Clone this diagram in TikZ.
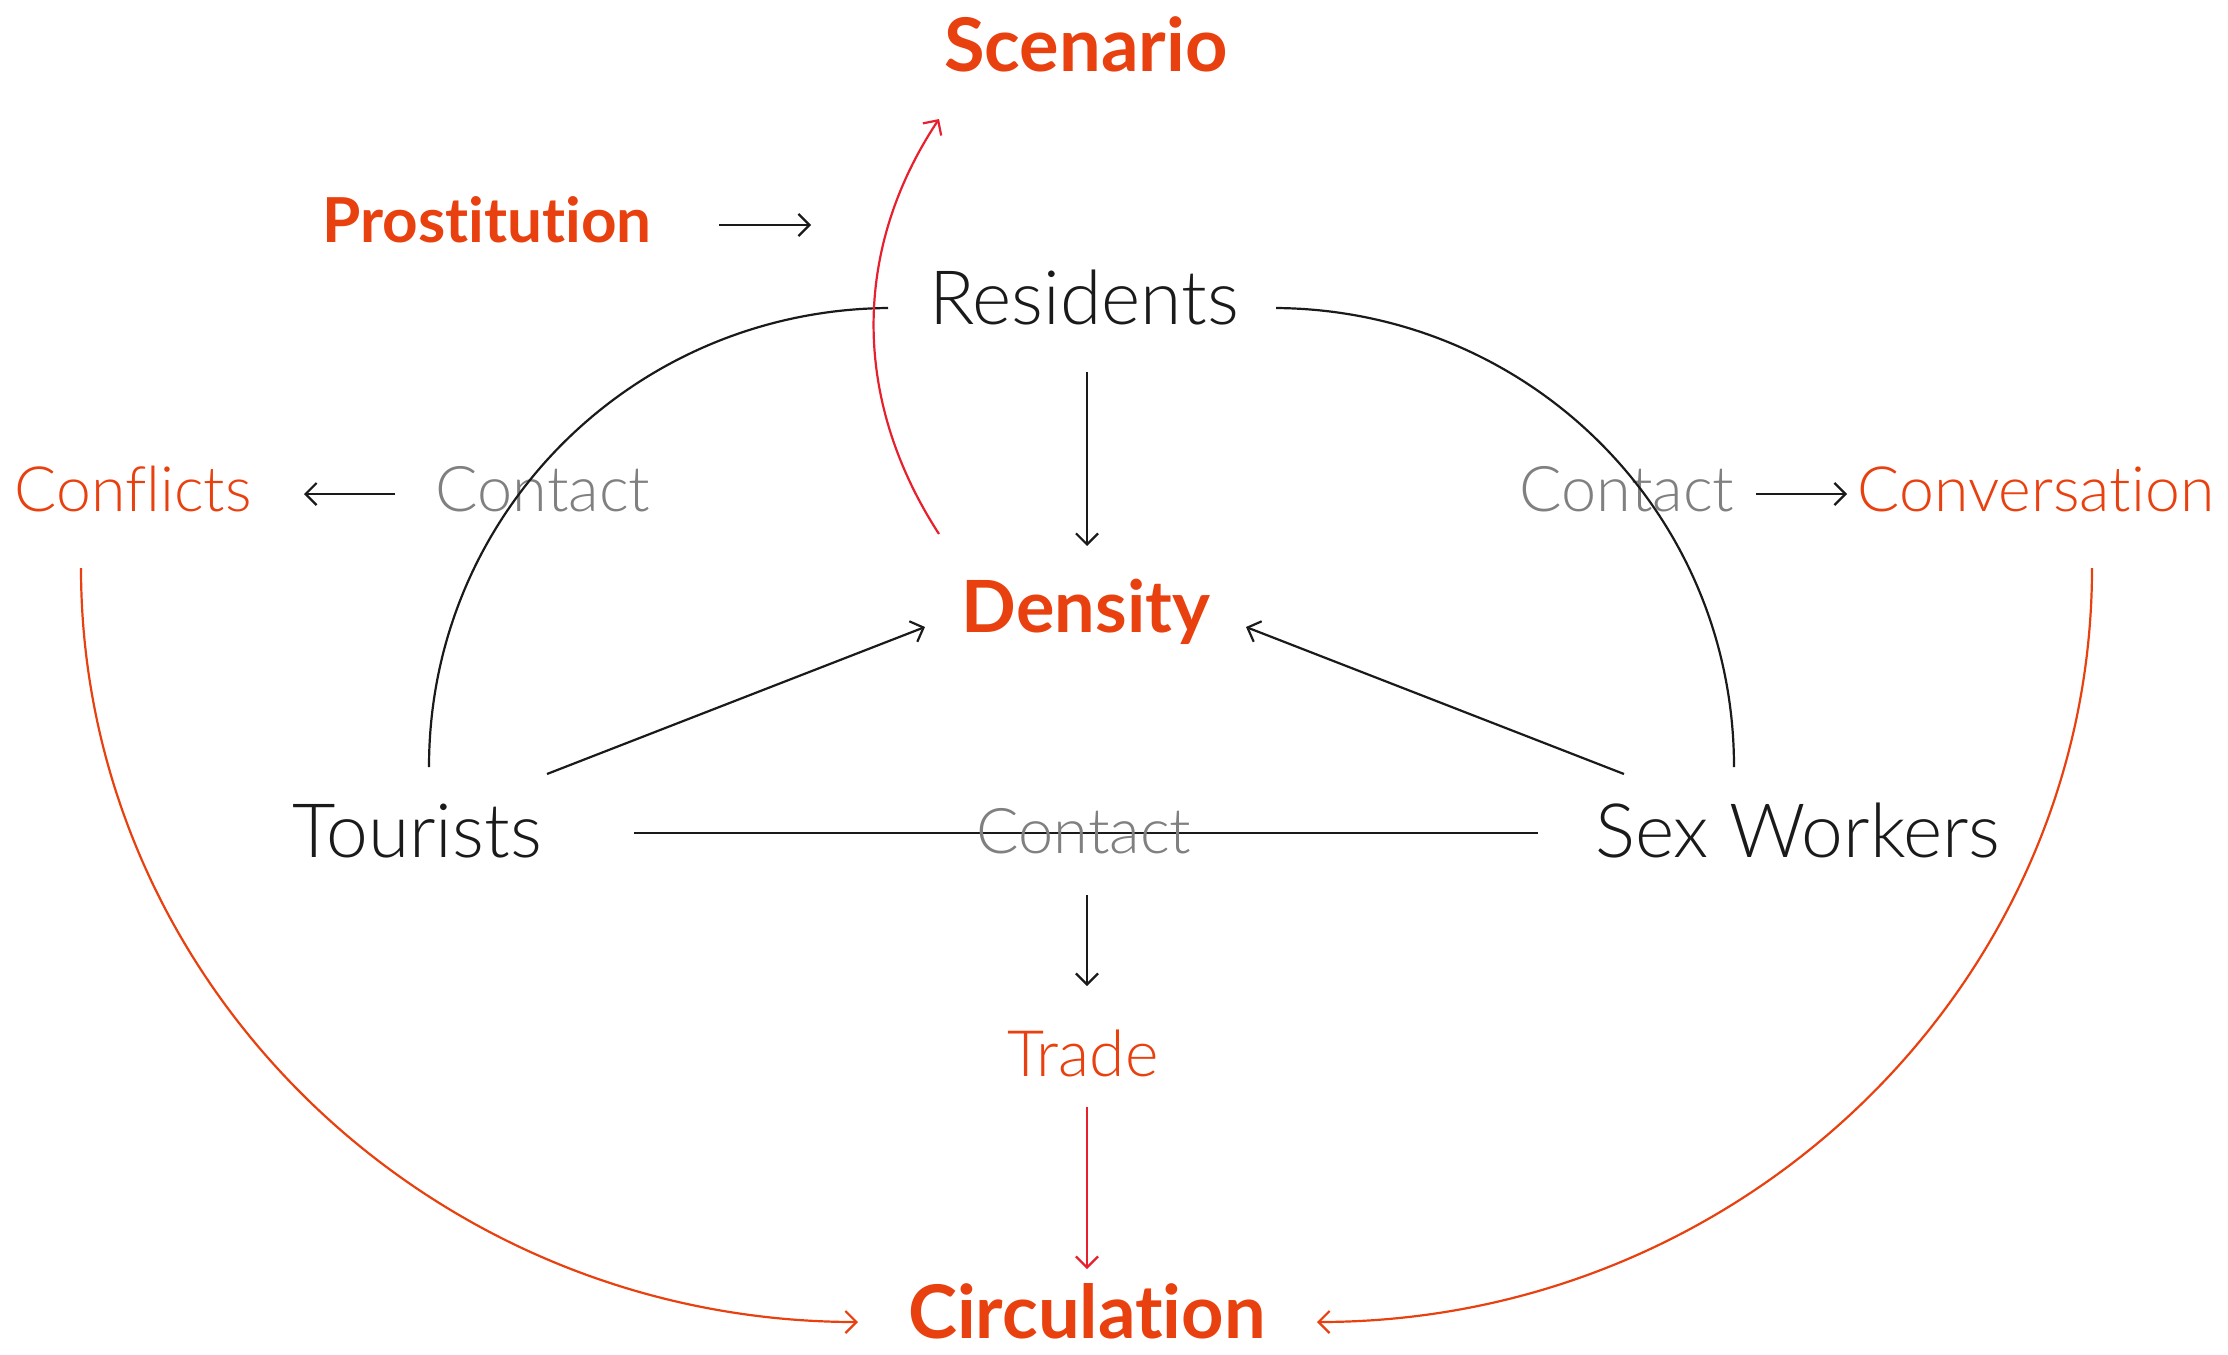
\documentclass[tikz,border=0pt]{standalone}
\usepackage{fontspec}
\setmainfont{Lato}[Ligatures=NoCommon]
\newfontfamily\lightf{Lato}[UprightFont={* Light},BoldFont={* Bold},Ligatures=NoCommon]
\usetikzlibrary{arrows.meta,calc}
\definecolor{accent}{RGB}{232,64,14}
\definecolor{redline}{RGB}{232,32,45}
\definecolor{ink}{RGB}{26,26,26}
\definecolor{greytext}{RGB}{128,128,128}
\tikzset{
  lbl/.style={anchor=base,inner sep=0pt},
  boldlbl/.style={lbl,text=accent,font=\fontsize{74}{80}\selectfont\bfseries},
  actor/.style={lbl,text=ink,font=\lightf\fontsize{75}{80}\selectfont},
  effect/.style={lbl,text=accent,font=\lightf\fontsize{62.5}{70}\selectfont},
  contact/.style={lbl,text=greytext,font=\lightf\fontsize{63}{70}\selectfont},
  arr/.style={draw=ink,line width=2.2pt,-{Straight Barb[length=11pt,width=22pt]}},
  link/.style={draw=ink,line width=2.2pt},
  redarr/.style={draw=redline,line width=2.2pt,-{Straight Barb[length=11pt,width=22pt]}},
  orarr/.style={draw=accent,line width=2.2pt,-{Straight Barb[length=11pt,width=22pt]}},
}
\begin{document}
\begin{tikzpicture}[x=1pt,y=-1pt]
\useasboundingbox (0,0) rectangle (2228,1355);
% nodes
\node[boldlbl] (scenario) at (1086,71) {Scenario};
\node[boldlbl,font=\fontsize{62}{70}\selectfont\bfseries] (prost) at (487,242) {Prostitution};
\node[actor] (residents) at (1084,324) {Residents};
\node[effect] (conflicts) at (133,511) {Conflicts};
\node[contact] (contactL) at (543,511) {Contact};
\node[contact] (contactR) at (1627,511) {Contact};
\node[effect] (conversation) at (2036,511) {Conversation};
\node[boldlbl,font=\fontsize{72}{78}\selectfont\bfseries] (density) at (1086,632) {Density};
\node[actor] (tourists) at (417,857) {Tourists};
\node[actor] (sexw) at (1798,857) {Sex Workers};
\node[effect,font=\lightf\fontsize{64}{70}\selectfont] (trade) at (1083,1076) {Trade};
\node[boldlbl] (circulation) at (1087,1338) {Circulation};
\coordinate (prostend) at ($(prost.base)+(324,-17)$);
% contact line (behind text)
\draw[link] ($(tourists.base)+(217,-24)$) -- ($(sexw.base)+(-260,-24)$);
\node[contact] (contactB) at (1084,853) {Contact};
% arcs residents - tourists / sex workers
\draw[link] ($(residents.base)+(-196,-16)$) .. controls +(-254,2) and +(0,-254) .. ($(tourists.base)+(12,-90)$);
\draw[link] ($(residents.base)+(192,-16)$) .. controls +(254,2) and +(0,-254) .. ($(sexw.base)+(-64,-90)$);
% scenario
\draw[redarr] ($(density.base)+(-147,-98)$) .. controls +(-87,-134) and +(-87,131) .. ($(scenario.base)+(-147,48)$);
% prostitution
\draw[arr] ($(prost.base)+(232,-17)$) -- (prostend);
% contact arrows
\draw[arr] ($(contactL.base)+(-148,-17)$) -- ($(conflicts.base)+(171,-17)$);
\draw[arr] ($(contactR.base)+(129,-17)$) -- ($(conversation.base)+(-189,-17)$);
% to density
\draw[arr] ($(residents.base)+(3,48)$) -- ($(density.base)+(1,-86)$);
\draw[arr] ($(tourists.base)+(130,-83)$) -- ($(density.base)+(-161,-5)$);
\draw[arr] ($(sexw.base)+(-174,-83)$) -- ($(density.base)+(160,-5)$);
% trade
\draw[arr] ($(contactB.base)+(3,42)$) -- ($(trade.base)+(4,-90)$);
\draw[redarr] ($(trade.base)+(4,31)$) -- ($(circulation.base)+(0,-69)$);
% circulation curves
\draw[orarr] ($(conflicts.base)+(-52,57)$) .. controls +(0,414) and +(-429,0) .. ($(circulation.base)+(-229,-16)$);
\draw[orarr] ($(conversation.base)+(56,57)$) .. controls +(0,414) and +(428,0) .. ($(circulation.base)+(230,-16)$);
\end{tikzpicture}
\end{document}
